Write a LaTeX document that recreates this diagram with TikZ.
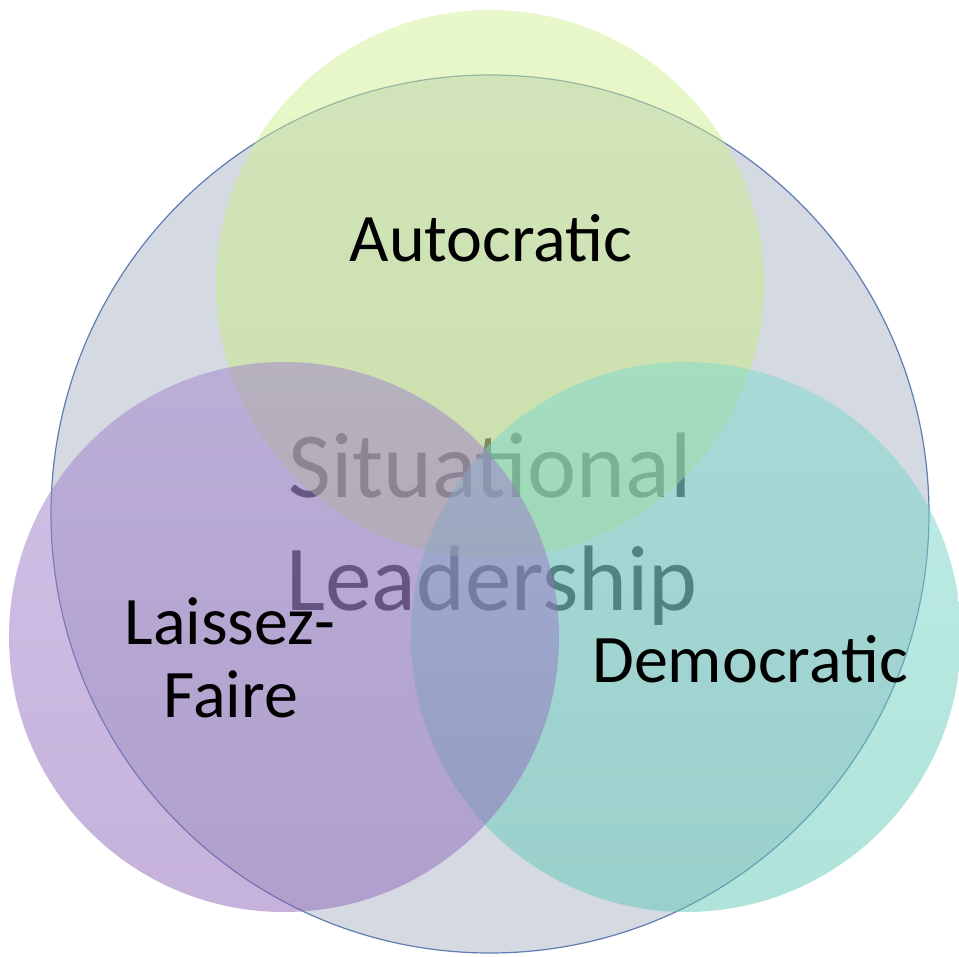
\documentclass[tikz,border=0pt]{standalone}
\usepackage{fontspec}
\setmainfont{Carlito}
\definecolor{bigfill}{RGB}{213,218,226}
\definecolor{bigline}{RGB}{95,125,178}
\definecolor{gtop}{RGB}{209,241,151}
\definecolor{gbot}{RGB}{195,228,118}
\definecolor{ptop}{RGB}{161,131,205}
\definecolor{pbot}{RGB}{141,102,184}
\definecolor{ttop}{RGB}{125,218,206}
\definecolor{tbot}{RGB}{97,200,182}
\definecolor{sittext}{RGB}{50,50,64}
\tikzset{
  ring/.style={circle, inner sep=0pt, minimum size=#1},
  petal/.style={circle, inner sep=0pt, minimum size=#1, fill opacity=0.5, draw=none},
  label/.style={text=black, inner sep=0pt, anchor=base, font=\fontsize{68}{73}\selectfont},
  bigtext/.style={text=sittext, inner sep=0pt, anchor=base, font=\fontsize{93}{113}\selectfont}
}
\begin{document}
\begin{tikzpicture}[x=1pt,y=-1pt]
\useasboundingbox (0,0) rectangle (959,957);
\node[ring=878pt, fill=bigfill, draw=bigline, line width=1.2pt] (big) at (490,514) {};
\node[bigtext] (sit1) at (490,497) {Situational};
\node[bigtext] (sit2) at (492,610) {Leadership};
\node[petal=548pt, top color=gtop, bottom color=gbot] (green) at (490,284) {};
\node[petal=550pt, top color=ttop, bottom color=tbot] (teal) at (686,637) {};
\node[petal=550pt, top color=ptop, bottom color=pbot] (purple) at (284,637) {};
\node[label] (auto) at (491,262) {Autocratic};
\node[label] (lf1) at (230,644) {Laissez-};
\node[label] (lf2) at (231,717) {Faire};
\node[label] (demo) at (750,682) {Democratic};
\end{tikzpicture}
\end{document}
